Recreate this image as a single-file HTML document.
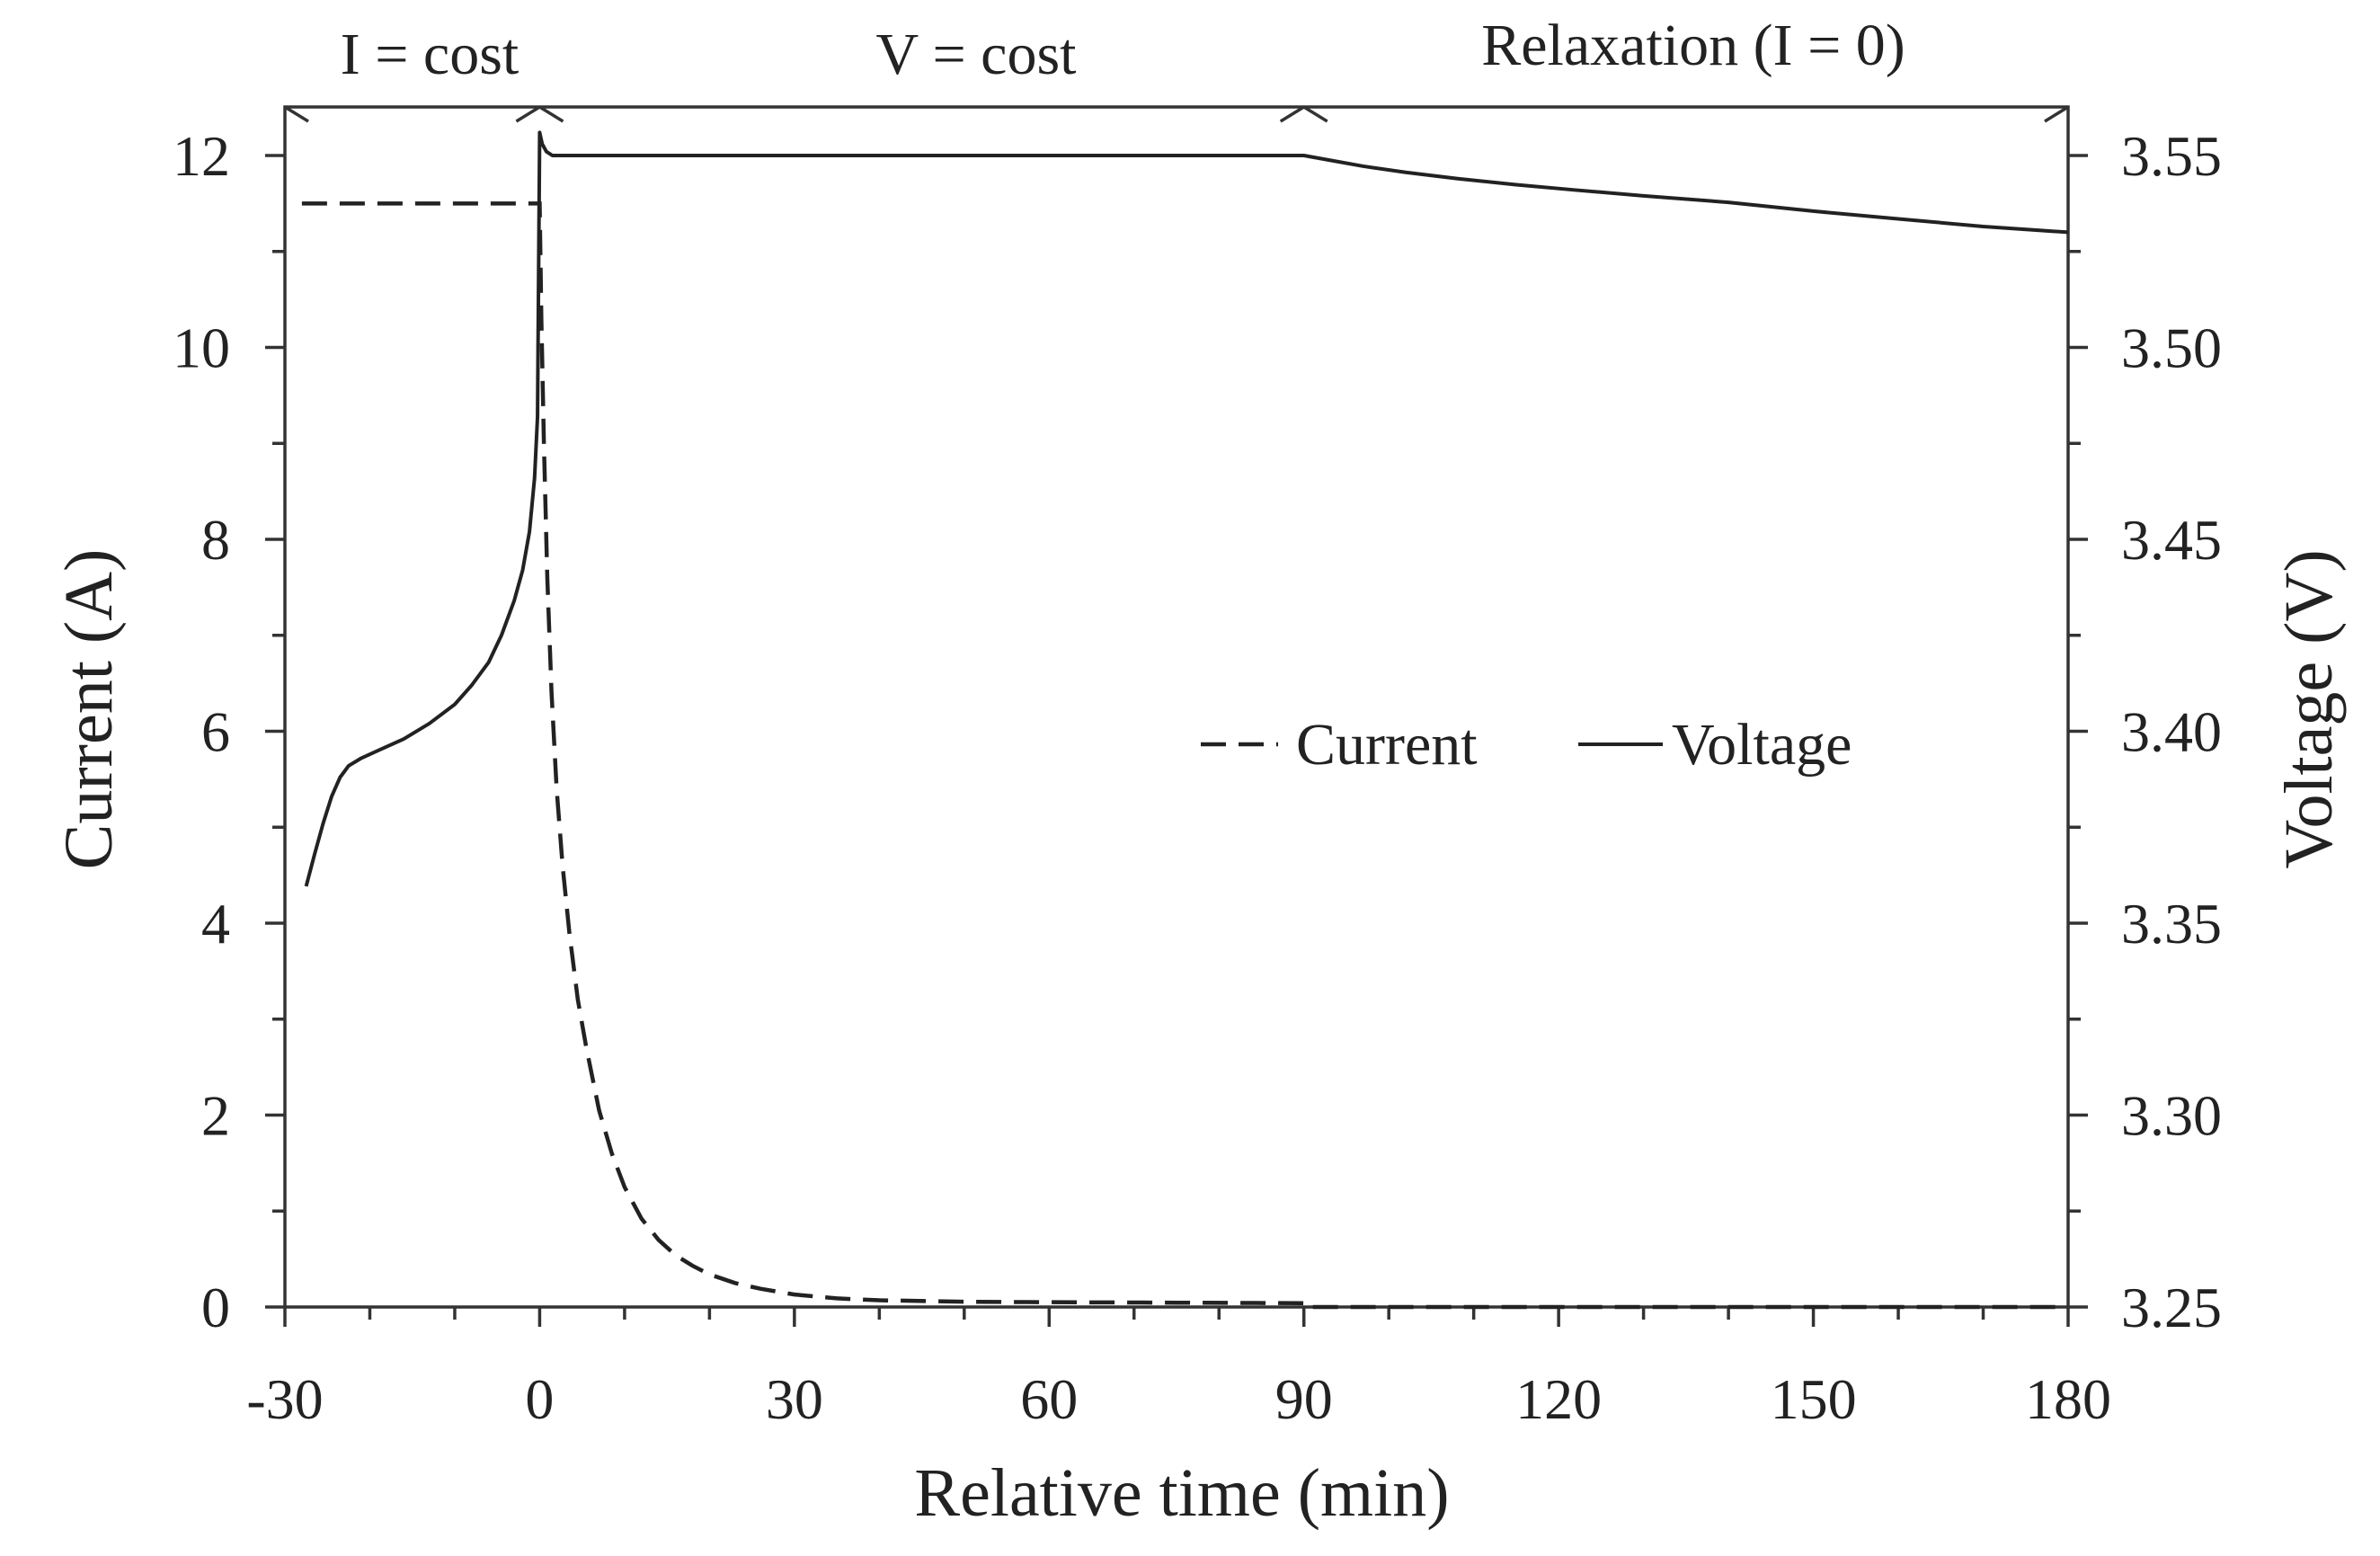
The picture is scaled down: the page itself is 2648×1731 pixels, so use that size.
<!DOCTYPE html>
<html><head><meta charset="utf-8"><style>
html,body{margin:0;padding:0;background:#fff;}
svg{display:block;font-family:"Liberation Serif",serif;}
</style></head><body>
<svg id="chart" width="2648" height="1731" viewBox="0 0 2648 1731" xmlns="http://www.w3.org/2000/svg">
<g id="axes"></g>
<g id="series"></g>
<g id="labels"></g>
</svg>
<script>
const xTicks=[-30,0,30,60,90,120,150,180];
const yLeftTicks=[0,2,4,6,8,10,12];
const yRightTicks=[3.25,3.30,3.35,3.40,3.45,3.50,3.55];
const currentTime=[-28,0,0.2,0.5,0.9,1.4,2,2.7,3.5,4.5,5.5,7,8.5,10,12,14,16,18,20,23,26,30,35,40,50,60,75,90,90.1,180];
const currentVal=[11.5,11.5,10.3,9,7.6,6.4,5.4,4.6,3.9,3.2,2.7,2.05,1.6,1.25,0.92,0.7,0.54,0.43,0.34,0.25,0.19,0.13,0.09,0.07,0.055,0.05,0.045,0.04,0,0];
const voltTime=[-27.5,-26.5,-25.5,-24.5,-23.5,-22.5,-21,-19,-16,-13,-10,-8,-6,-4.5,-3,-2,-1.2,-0.6,-0.25,0,0.3,0.8,1.5,30,60,90,93,97,102,108,115,122,130,140,150,160,170,180];
const voltVal=[3.3596,3.368,3.376,3.383,3.388,3.391,3.393,3.395,3.398,3.402,3.407,3.412,3.418,3.425,3.434,3.442,3.452,3.466,3.482,3.556,3.553,3.551,3.55,3.55,3.55,3.55,3.5488,3.5472,3.5456,3.544,3.5424,3.541,3.5395,3.5378,3.5355,3.5335,3.5315,3.53];
const phaseLabels=["I = cost","V = cost","Relaxation (I = 0)"];
const phaseBounds=[-30,0,90,180];

const NS="http://www.w3.org/2000/svg";
const L=317,R=2301,T=119,B=1454;
const X=t=>L+(t+30)/210*(R-L);
const Y=a=>B-a/12*(B-173);
const YV=v=>Y((v-3.25)/0.025);
function mk(tag,attrs,parent,text){const e=document.createElementNS(NS,tag);for(const k in attrs)e.setAttribute(k,attrs[k]);if(text!==undefined)e.textContent=text;parent.appendChild(e);return e;}
const axes=document.getElementById('axes'),series=document.getElementById('series'),labels=document.getElementById('labels');
const st={stroke:'#333','stroke-width':3.5,fill:'none'};
let e;
e=mk('rect',Object.assign({x:L,y:T,width:R-L,height:B-T},st),axes);


for(let t=-30;t<=180;t+=10){const maj=xTicks.includes(t);e=mk('line',Object.assign({x1:X(t),x2:X(t),y1:B,y2:B+(maj?22:14)},st),axes);

}
xTicks.forEach(t=>{e=mk('text',{x:X(t),y:1578,'text-anchor':'middle','font-size':64,fill:'#222'},labels,String(t));

});
for(let a=0;a<=12;a+=1){const maj=a%2===0;e=mk('line',Object.assign({x1:L,x2:L-(maj?22:14),y1:Y(a),y2:Y(a)},st),axes);


e=mk('line',Object.assign({x1:R,x2:R+(maj?22:14),y1:Y(a),y2:Y(a)},st),axes);

}
yLeftTicks.forEach(a=>{e=mk('text',{x:256,y:Y(a)+22,'text-anchor':'end','font-size':64,fill:'#222'},labels,String(a));

});
yRightTicks.forEach(v=>{e=mk('text',{x:2360,y:YV(v)+22,'text-anchor':'start','font-size':64,fill:'#222'},labels,v.toFixed(2));

});
phaseBounds.forEach((t,i)=>{const x=X(t);
 if(i>0){e=mk('path',Object.assign({d:`M${x-26} ${T+16} L${x} ${T} `},st),axes);}
 if(i<phaseBounds.length-1){e=mk('path',Object.assign({d:`M${x} ${T} L${x+26} ${T+16}`},st),axes);}
});
const phaseY=[82,82,72];
phaseLabels.forEach((s,i)=>{const cx=i===0?478:(i===1?1086:1884);e=mk('text',{x:cx,y:phaseY[i],'text-anchor':'middle','font-size':66,fill:'#222'},labels,s);

});
e=mk('text',{x:1315,y:1686,'text-anchor':'middle','font-size':76,fill:'#222'},labels,'Relative time (min)');


e=mk('text',{x:0,y:0,transform:'translate(124,789) rotate(-90)','text-anchor':'middle','font-size':76,fill:'#222'},labels,'Current (A)');


e=mk('text',{x:0,y:0,transform:'translate(2594,789) rotate(-90)','text-anchor':'middle','font-size':76,fill:'#222'},labels,'Voltage (V)');


e=mk('polyline',{points:currentTime.map((t,i)=>X(t)+','+Y(currentVal[i])).join(' '),fill:'none',stroke:'#222','stroke-width':4.5,'stroke-dasharray':'28 14'},series);


e=mk('polyline',{points:voltTime.map((t,i)=>X(t)+','+YV(voltVal[i])).join(' '),fill:'none',stroke:'#222','stroke-width':4,'stroke-linejoin':'round'},series);


const lg=mk('g',{},labels);


e=mk('line',{x1:1336,x2:1422,y1:828,y2:828,stroke:'#222','stroke-width':4.5,'stroke-dasharray':'28 14'},lg);


e=mk('text',{x:1442,y:850,'font-size':66,fill:'#222'},lg,'Current');


e=mk('line',{x1:1756,x2:1850,y1:828,y2:828,stroke:'#222','stroke-width':4},lg);


e=mk('text',{x:1860,y:850,'font-size':66,fill:'#222'},lg,'Voltage');


</script>
</body></html>
